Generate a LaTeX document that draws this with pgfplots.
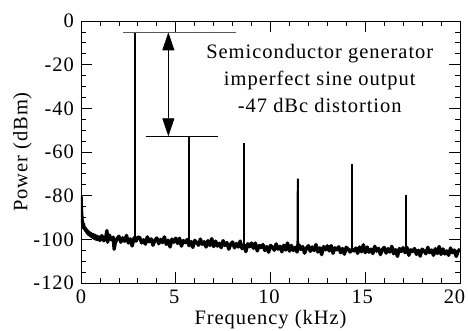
\documentclass[border=0pt]{standalone}
\usepackage{pgfplots}
\pgfplotsset{compat=1.18}
\usepackage{fontspec}
\setmainfont{Liberation Serif}[LetterSpace=4.7]
\usetikzlibrary{arrows.meta}
\begin{document}
\fontsize{20.5}{27}\selectfont
\begin{tikzpicture}
\begin{axis}[
  at={(0,0)}, anchor=south west,
  scale only axis, width=379pt, height=262pt,
  xmin=0, xmax=20, ymin=-120, ymax=0,
  xtick={0,5,10,15,20}, ytick={-120,-100,-80,-60,-40,-20,0},
  xticklabels={0,{5\kern3pt},{10\kern3pt},{15\kern6pt},{20\kern11pt}},
  minor x tick num=4, minor y tick num=3,
  tick align=inside, tick pos=both,
  major tick length=11pt, minor tick length=5pt,
  every tick/.style={black, line width=0.8pt},
  axis line style={line width=0.9pt},
  /pgf/number format/assume math mode=true,
  ticklabel style={font=\fontsize{20.5}{24}\selectfont},
  xlabel={Frequency (kHz)}, ylabel={Power (dBm)},
  label style={font=\fontsize{20.5}{24}\selectfont},
  xlabel style={yshift=7pt},
  ylabel style={yshift=-12pt},
  clip=true,
]
% noise floor
\addplot[black, line width=3.4pt, line join=round] table {
x y
0 -80
0.02 -86
0.04 -89
0.06 -91.5
0.08 -92
0.1 -93.5
0.13 -93
0.16 -95
0.2 -94.5
0.24 -96
0.28 -95.5
0.32 -97
0.36 -96.2
0.4 -97.8
0.45 -96.9
0.5 -98.4
0.55 -97.5
0.6 -99
0.65 -97.8
0.7 -99.6
0.75 -98.2
0.8 -100
0.85 -98.6
0.9 -100.2
0.95 -98.9
1.0 -100.5
1.1 -98.3
1.2 -100.6
1.3 -99.3
1.37 -96
1.4 -101.3
1.5 -98.1
1.6 -100.2
1.7 -99.0
1.75 -104.5
1.8 -101.9
1.9 -99.7
2.0 -98.6
2.1 -101.3
2.2 -99.3
2.3 -100.9
2.4 -98.2
2.5 -101.7
2.6 -99.8
2.7 -103.0
2.8 -99.3
2.9 -100.8
3.0 -99.0
3.1 -99.2
3.2 -101.6
3.3 -100.2
3.4 -102.2
3.5 -98.9
3.6 -101.1
3.7 -99.8
3.8 -102.7
3.9 -100.4
4.0 -99.4
4.1 -102.0
4.2 -100.0
4.3 -101.5
4.4 -98.9
4.5 -102.3
4.6 -100.4
4.7 -103.5
4.8 -99.9
4.9 -101.3
5.0 -99.5
5.1 -101.9
5.2 -99.5
5.3 -103.1
5.4 -100.6
5.5 -101.5
5.6 -100.1
5.7 -102.9
5.8 -101.0
5.9 -103.7
6.0 -100.5
6.1 -101.4
6.2 -102.7
6.3 -99.9
6.4 -102.3
6.5 -101.1
6.6 -103.5
6.7 -100.6
6.8 -102.8
6.9 -99.7
7.0 -103.3
7.1 -100.8
7.2 -103.1
7.3 -101.8
7.4 -103.8
7.5 -100.6
7.6 -102.8
7.7 -101.5
7.8 -104.5
7.9 -102.2
8.0 -101.2
8.1 -103.9
8.2 -101.9
8.3 -103.5
8.4 -100.8
8.5 -104.3
8.6 -102.5
8.7 -105.6
8.8 -102.0
8.9 -103.4
9.0 -101.7
9.1 -104.1
9.2 -101.7
9.3 -105.3
9.4 -102.8
9.5 -103.7
9.6 -102.4
9.7 -105.1
9.8 -103.3
9.9 -105.9
10.0 -102.8
10.1 -103.6
10.2 -105.0
10.3 -102.1
10.4 -104.5
10.5 -103.2
10.6 -105.7
10.7 -102.7
10.8 -104.9
10.9 -101.7
11.0 -105.4
11.1 -102.8
11.2 -105.1
11.3 -103.7
11.4 -105.8
11.5 -102.5
11.6 -104.6
11.7 -103.3
11.8 -106.3
11.9 -104.0
12.0 -102.9
12.1 -105.5
12.2 -103.5
12.3 -105.1
12.4 -102.4
12.5 -105.8
12.6 -103.9
12.7 -107.0
12.8 -103.3
12.9 -104.8
13.0 -103.0
13.1 -105.3
13.2 -102.9
13.3 -106.4
13.4 -103.9
13.5 -104.8
13.6 -103.4
13.7 -106.1
13.8 -104.2
13.9 -106.8
14.0 -103.6
14.1 -104.5
14.2 -105.8
14.3 -104.6
14.4 -105.3
14.5 -104.0
14.6 -106.4
14.7 -103.5
14.8 -105.7
14.9 -102.5
15.0 -106.1
15.1 -103.5
15.2 -105.9
15.3 -104.5
15.4 -106.5
15.5 -103.2
15.6 -105.4
15.7 -104.1
15.8 -107.0
15.9 -104.7
16.0 -103.7
16.1 -106.3
16.2 -104.3
16.3 -105.8
16.4 -103.2
16.5 -106.6
16.6 -104.7
16.7 -107.8
16.8 -104.2
16.9 -105.6
17.0 -103.8
17.1 -106.1
17.2 -103.7
17.3 -107.3
17.4 -104.8
17.5 -105.6
17.6 -104.2
17.7 -106.9
17.8 -105.0
17.9 -107.7
18.0 -104.5
18.1 -105.3
18.2 -106.6
18.3 -103.7
18.4 -106.1
18.5 -104.9
18.6 -107.3
18.7 -104.3
18.8 -106.5
18.9 -103.3
19.0 -106.9
19.1 -104.4
19.2 -106.7
19.3 -105.3
19.4 -107.3
19.5 -104.0
19.6 -106.1
19.7 -104.9
19.8 -107.8
19.9 -105.5
20.0 -104.4
};
% harmonic peaks
\addplot[black, line width=2.2pt] coordinates {(2.86,-100.5) (2.86,-5.5)};
\addplot[black, line width=2pt] coordinates {(5.72,-101) (5.72,-52.8)};
\addplot[black, line width=2pt] coordinates {(8.58,-102.5) (8.58,-55.8)};
\addplot[black, line width=2pt] coordinates {(11.40,-104) (11.43,-100) (11.44,-72.2) (11.45,-100.5) (11.48,-104)};
\addplot[black, line width=2pt] coordinates {(14.3,-104.6) (14.3,-65.6)};
\addplot[black, line width=2pt] coordinates {(17.16,-105) (17.16,-79.8)};
\draw[gray!70!black, line width=0.8pt] (axis cs:2.23,-5.2) -- (axis cs:8.16,-5.2);
\draw[black, line width=0.8pt] (axis cs:3.41,-52.8) -- (axis cs:7.21,-52.8);
\draw[black, line width=0.8pt, {Triangle[width=12pt,length=18pt]}-{Triangle[width=12pt,length=18pt]}]
  (axis cs:4.61,-5.2) -- (axis cs:4.61,-52.8);
\node[align=center, inner sep=0pt] at (axis cs:12.6,-26.5)
  {Semiconductor generator\\imperfect sine output\\-47 dBc distortion};
\end{axis}
\pgfresetboundingbox
\path (-81pt,-47pt) rectangle (387pt,283pt);
\end{tikzpicture}
\end{document}
